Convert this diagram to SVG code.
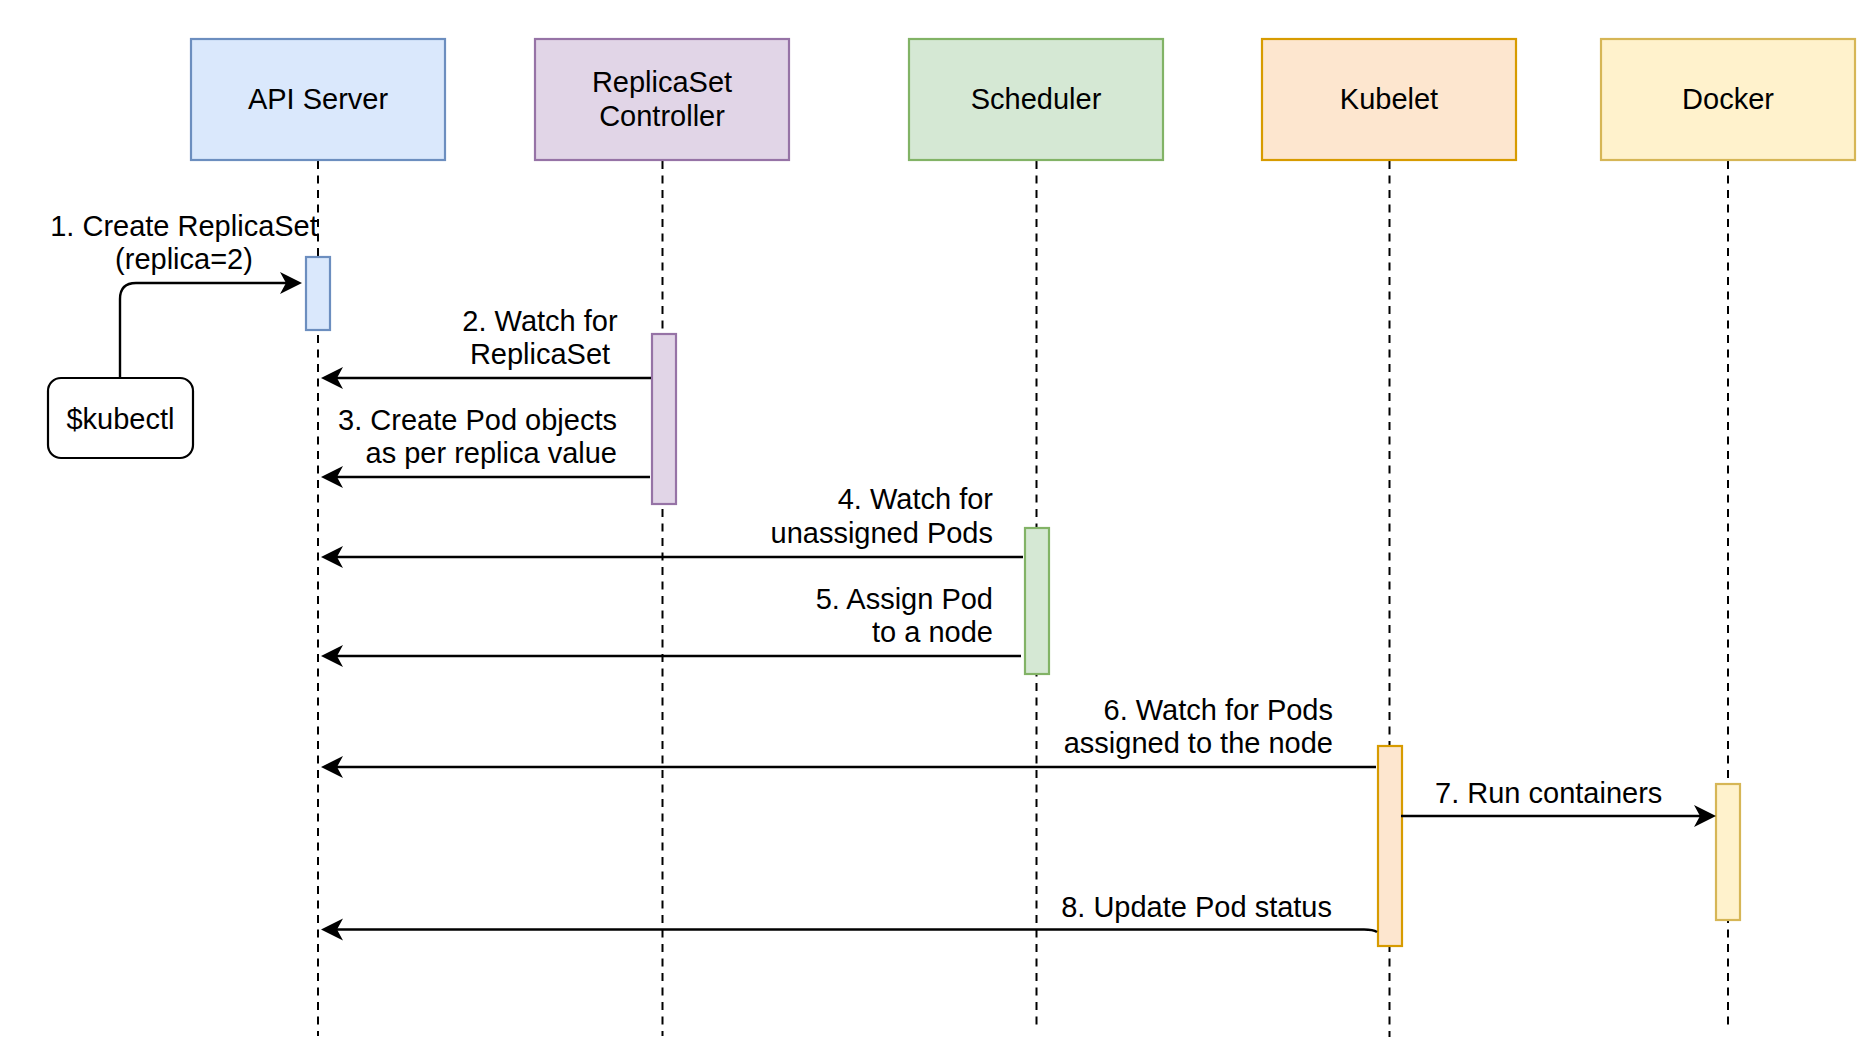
<svg xmlns="http://www.w3.org/2000/svg" width="1876" height="1048" viewBox="0 0 1876 1048">
<style>
  text { font-family: "Liberation Sans", Arial, sans-serif; font-size: 29px; fill: #000; }
  .c { text-anchor: middle; }
  .e { text-anchor: end; }
  .life { stroke: #000; stroke-width: 2; stroke-dasharray: 8 6.5; fill: none; }
  .msg { stroke: #000; stroke-width: 2.4; fill: none; marker-end: url(#arr); }
  .box { stroke-width: 2.2; }
  .blue { fill: #dae8fc; stroke: #6c8ebf; }
  .purple { fill: #e1d5e7; stroke: #9673a6; }
  .green { fill: #d5e8d4; stroke: #82b366; }
  .orange { fill: #fde6cf; stroke: #d79b00; }
  .yellow { fill: #fff2cc; stroke: #d6b656; }
</style>
<defs>
  <marker id="arr" markerUnits="userSpaceOnUse" viewBox="-8 -12 26 24" markerWidth="26" markerHeight="24" refX="0" refY="0" orient="auto">
    <path d="M16,0 L-6,-11 L0,0 L-6,11 Z" fill="#000"/>
  </marker>
</defs>
<rect width="1876" height="1048" fill="#fff"/>

<g id="lifelines">
  <line class="life" x1="318" y1="161" x2="318" y2="1036"/>
  <line class="life" x1="662.5" y1="161" x2="662.5" y2="1036"/>
  <line class="life" x1="1036.5" y1="161" x2="1036.5" y2="1030"/>
  <line class="life" x1="1389.5" y1="161" x2="1389.5" y2="1037"/>
  <line class="life" x1="1728" y1="161" x2="1728" y2="1030"/>
</g>

<g id="api-server">
  <rect class="box blue" x="191" y="39" width="254" height="121"/>
  <text class="c" x="318" y="108.5">API Server</text>
</g>
<g id="replicaset-controller">
  <rect class="box purple" x="535" y="39" width="254" height="121"/>
  <text class="c" x="662" y="91.5">ReplicaSet</text>
  <text class="c" x="662" y="125.5">Controller</text>
</g>
<g id="scheduler">
  <rect class="box green" x="909" y="39" width="254" height="121"/>
  <text class="c" x="1036" y="108.5">Scheduler</text>
</g>
<g id="kubelet">
  <rect class="box orange" x="1262" y="39" width="254" height="121"/>
  <text class="c" x="1389" y="108.5">Kubelet</text>
</g>
<g id="docker">
  <rect class="box yellow" x="1601" y="39" width="254" height="121"/>
  <text class="c" x="1728" y="108.5">Docker</text>
</g>

<g id="kubectl">
  <rect x="48" y="378" width="145" height="80" rx="13" ry="13" fill="#fff" stroke="#000" stroke-width="2.2"/>
  <text class="c" x="120.5" y="428.5">$kubectl</text>
</g>

<g id="activations">
  <rect id="act-api" class="box blue" x="306" y="257" width="24" height="73"/>
  <rect id="act-rs" class="box purple" x="652" y="334" width="24" height="170"/>
  <rect id="act-sched" class="box green" x="1025" y="528" width="24" height="146"/>
  <rect id="act-kubelet" class="box orange" x="1378" y="746" width="24" height="200"/>
  <rect id="act-docker" class="box yellow" x="1716" y="784" width="24" height="136"/>
</g>

<g id="connectors">
  <path class="msg" d="M120,378 V299 Q120,283 136,283 H286"/>
  <path class="msg" d="M651,378 H337"/>
  <path class="msg" d="M650,477 H337"/>
  <path class="msg" d="M1023,557 H337"/>
  <path class="msg" d="M1021,656 H337"/>
  <path class="msg" d="M1376,767 H337"/>
  <path class="msg" d="M1401,816 H1700"/>
  <path class="msg" d="M1377,932 Q1373,929.5 1364,929.5 H337"/>
</g>

<g id="labels">
  <text class="c" x="184" y="236">1. Create ReplicaSet</text>
  <text class="c" x="184" y="269">(replica=2)</text>
  <text class="c" x="540" y="331">2. Watch for</text>
  <text class="c" x="540" y="364">ReplicaSet</text>
  <text class="e" x="617" y="430">3. Create Pod objects</text>
  <text class="e" x="617" y="463">as per replica value</text>
  <text class="e" x="993" y="508.5">4. Watch for</text>
  <text class="e" x="993" y="542.5">unassigned Pods</text>
  <text class="e" x="993" y="608.5">5. Assign Pod</text>
  <text class="e" x="993" y="642">to a node</text>
  <text class="e" x="1333" y="719.5">6. Watch for Pods</text>
  <text class="e" x="1333" y="753">assigned to the node</text>
  <text x="1435" y="803">7. Run containers</text>
  <text class="e" x="1332" y="917">8. Update Pod status</text>
</g>
</svg>
